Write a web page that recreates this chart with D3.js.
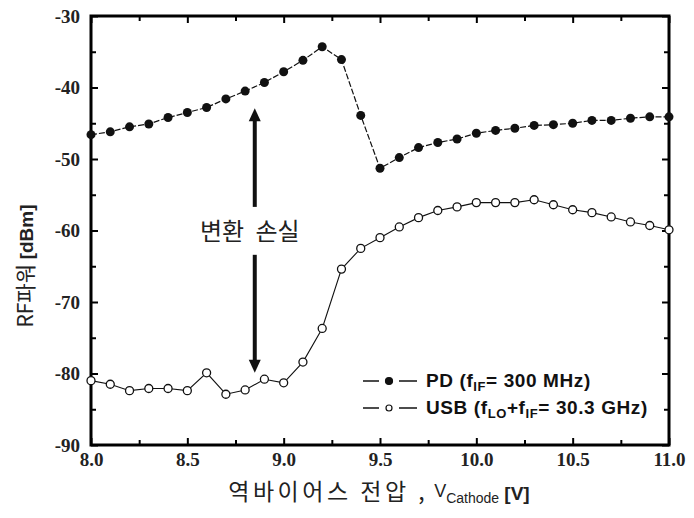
<!DOCTYPE html>
<html>
<head>
<meta charset="utf-8">
<script src="https://cdn.jsdelivr.net/npm/d3@7"></script>
<style>
  body { margin: 0; background: #fff; }
  .tick text { font-family: "Liberation Serif", serif; font-weight: bold; font-size: 19px; fill: #222; }
  .tick line { stroke: #000; stroke-width: 2; }
  .kr { font-family: "Noto Sans CJK KR", sans-serif; fill: #222; }
  .legend { font-family: "Liberation Sans", Arial, sans-serif; font-weight: bold; font-size: 19px; fill: #111; letter-spacing: 0.6px; }
</style>
</head>
<body>
<svg id="chart" width="694" height="518"></svg>
<script>
// Reverse bias voltage (V)
const voltage = [8.0, 8.1, 8.2, 8.3, 8.4, 8.5, 8.6, 8.7, 8.8, 8.9,
  9.0, 9.1, 9.2, 9.3, 9.4, 9.5, 9.6, 9.7, 9.8, 9.9,
  10.0, 10.1, 10.2, 10.3, 10.4, 10.5, 10.6, 10.7, 10.8, 10.9, 11.0];

// PD output at f_IF = 300 MHz (dBm)
const pdPower = [-46.6, -46.2, -45.5, -45.1, -44.2, -43.5, -42.8, -41.6, -40.5, -39.3,
  -37.8, -36.2, -34.3, -36.1, -43.9, -51.3, -49.8, -48.4, -47.7, -47.2,
  -46.4, -46.0, -45.7, -45.3, -45.2, -45.0, -44.6, -44.6, -44.3, -44.1, -44.1];

// USB at f_LO + f_IF = 30.3 GHz (dBm)
const usbPower = [-81.0, -81.5, -82.4, -82.1, -82.1, -82.4, -79.9, -82.9, -82.3, -80.8,
  -81.3, -78.4, -73.7, -65.4, -62.5, -61.0, -59.5, -58.2, -57.2, -56.7,
  -56.1, -56.1, -56.1, -55.7, -56.4, -57.1, -57.5, -58.1, -58.8, -59.3, -59.9];

const xTicks = [8.0, 8.5, 9.0, 9.5, 10.0, 10.5, 11.0];
const xMinorTicks = [8.25, 8.75, 9.25, 9.75, 10.25, 10.75];
const yTicks = [-90, -80, -70, -60, -50, -40, -30];
const yMinorTicks = [-85, -75, -65, -55, -45, -35];

// conversion loss arrow: x, and top tip / gap / bottom tip in dBm
const lossArrowX = 8.85;
const lossArrowY = [-42.9, -56.7, -63.4, -79.9];

const margin = {top: 16, left: 91, right: 25, bottom: 73};
const width = 694 - margin.left - margin.right;
const height = 518 - margin.top - margin.bottom;

const svg = d3.select("#chart");
const g = svg.append("g").attr("transform", `translate(${margin.left},${margin.top})`);

const x = d3.scaleLinear().domain([8, 11]).range([0, width]);
const y = d3.scaleLinear().domain([-90, -30]).range([height, 0]);

// Axes with inward ticks
function drawAxis(axis, transform, cls) {
  const a = g.append("g").attr("class", cls).attr("transform", transform).call(axis);
  a.select(".domain").remove();
  return a;
}

drawAxis(d3.axisBottom(x).tickValues(xTicks).tickSizeInner(-7).tickPadding(8).tickFormat(d3.format(".1f")),
  `translate(0,${height})`, "x-axis");
drawAxis(d3.axisBottom(x).tickValues(xMinorTicks).tickSizeInner(-5).tickFormat(""),
  `translate(0,${height})`, "x-minor");
drawAxis(d3.axisTop(x).tickValues(xTicks).tickSizeInner(-7).tickFormat(""), "translate(0,0)", "x-top");
drawAxis(d3.axisTop(x).tickValues(xMinorTicks).tickSizeInner(-5).tickFormat(""), "translate(0,0)", "x-top-minor");

drawAxis(d3.axisLeft(y).tickValues(yTicks).tickSizeInner(-7).tickPadding(11).tickFormat(d => String(d)),
  "translate(0,0)", "y-axis");
drawAxis(d3.axisLeft(y).tickValues(yMinorTicks).tickSizeInner(-5).tickFormat(""), "translate(0,0)", "y-minor");
drawAxis(d3.axisRight(y).tickValues(yTicks).tickSizeInner(-7).tickFormat(""), `translate(${width},0)`, "y-right");
drawAxis(d3.axisRight(y).tickValues(yMinorTicks).tickSizeInner(-5).tickFormat(""), `translate(${width},0)`, "y-right-minor");

// Frame
g.append("rect")
  .attr("width", width)
  .attr("height", height)
  .attr("fill", "none")
  .attr("stroke", "#000")
  .attr("stroke-width", 3);

// Series lines
const pdData = voltage.map((v, i) => [v, pdPower[i]]);
const usbData = voltage.map((v, i) => [v, usbPower[i]]);
const line = d3.line().x(d => x(d[0])).y(d => y(d[1]));

g.append("path")
  .datum(pdData)
  .attr("d", line)
  .attr("fill", "none")
  .attr("stroke", "#111")
  .attr("stroke-width", 1.2)
  .attr("stroke-dasharray", "6,2");

g.append("path")
  .datum(usbData)
  .attr("d", line)
  .attr("fill", "none")
  .attr("stroke", "#111")
  .attr("stroke-width", 1.1);

g.selectAll("circle.pd")
  .data(pdData)
  .enter()
  .append("circle")
  .attr("class", "pd")
  .attr("cx", d => x(d[0]))
  .attr("cy", d => y(d[1]))
  .attr("r", 4.5)
  .attr("fill", "#111");

g.selectAll("circle.usb")
  .data(usbData)
  .enter()
  .append("circle")
  .attr("class", "usb")
  .attr("cx", d => x(d[0]))
  .attr("cy", d => y(d[1]))
  .attr("r", 4)
  .attr("fill", "#fff")
  .attr("stroke", "#111")
  .attr("stroke-width", 1.3);

// Conversion loss annotation
const ax = x(lossArrowX);
function arrow(yFrom, yTo) {
  const dir = Math.sign(yTo - yFrom);
  g.append("line")
    .attr("x1", ax).attr("x2", ax)
    .attr("y1", yFrom).attr("y2", yTo - dir * 10)
    .attr("stroke", "#111")
    .attr("stroke-width", 4);
  g.append("path")
    .attr("d", `M${ax},${yTo} L${ax - 6},${yTo - dir * 13} L${ax + 6},${yTo - dir * 13} Z`)
    .attr("fill", "#111");
}
arrow(y(lossArrowY[1]), y(lossArrowY[0]));
arrow(y(lossArrowY[2]), y(lossArrowY[3]));

g.append("text")
  .attr("class", "kr")
  .attr("x", ax - 5)
  .attr("y", (y(lossArrowY[1]) + y(lossArrowY[2])) / 2 + 9)
  .attr("text-anchor", "middle")
  .attr("font-size", 24)
  .attr("word-spacing", 6)
  .text("변환 손실");

// Legend
const legendRows = [
  {y: 365, filled: true, label: "PD (f", subs: [["IF", "= 300 MHz)"]]},
  {y: 392, filled: false, label: "USB (f", subs: [["LO", "+f"], ["IF", "= 30.3 GHz)"]]}
];
legendRows.forEach(row => {
  g.append("line").attr("x1", 272).attr("x2", 288).attr("y1", row.y).attr("y2", row.y)
    .attr("stroke", "#111").attr("stroke-width", 1.5);
  g.append("line").attr("x1", 308).attr("x2", 326).attr("y1", row.y).attr("y2", row.y)
    .attr("stroke", "#111").attr("stroke-width", 1.5);
  g.append("circle").attr("cx", 298).attr("cy", row.y).attr("r", row.filled ? 3.5 : 3)
    .attr("fill", row.filled ? "#111" : "#fff").attr("stroke", "#111").attr("stroke-width", 1.2);
  const t = g.append("text").attr("class", "legend").attr("x", 335).attr("y", row.y + 6).text(row.label);
  row.subs.forEach(s => {
    t.append("tspan").attr("font-size", 13).attr("dy", 4).text(s[0]);
    t.append("tspan").attr("dy", -4).text(s[1]);
  });
});

// Axis titles
const xt = svg.append("text")
  .attr("class", "kr")
  .attr("x", 379)
  .attr("y", 500)
  .attr("text-anchor", "middle")
  .attr("font-size", 23);
xt.append("tspan").attr("letter-spacing", 3.5).text("역바이어스 전압 ,");
xt.append("tspan").attr("font-family", "Liberation Sans, Arial, sans-serif").attr("font-size", 18).attr("dx", 6).attr("dy", -3).text("V");
xt.append("tspan").attr("font-family", "Liberation Sans, Arial, sans-serif").attr("font-size", 14).attr("dy", 6).text("Cathode");
xt.append("tspan").attr("font-family", "Liberation Sans, Arial, sans-serif").attr("font-weight", "bold").attr("font-size", 19).attr("dy", -3).text(" [V]");

const yt = svg.append("text")
  .attr("class", "kr")
  .attr("transform", "translate(33,266) rotate(-90)")
  .attr("text-anchor", "middle")
  .attr("font-size", 21);
yt.append("tspan").text("RF파워 ");
yt.append("tspan").attr("font-family", "Liberation Sans, Arial, sans-serif").attr("font-weight", "bold").attr("font-size", 19).text("[dBm]");
</script>
</body>
</html>
